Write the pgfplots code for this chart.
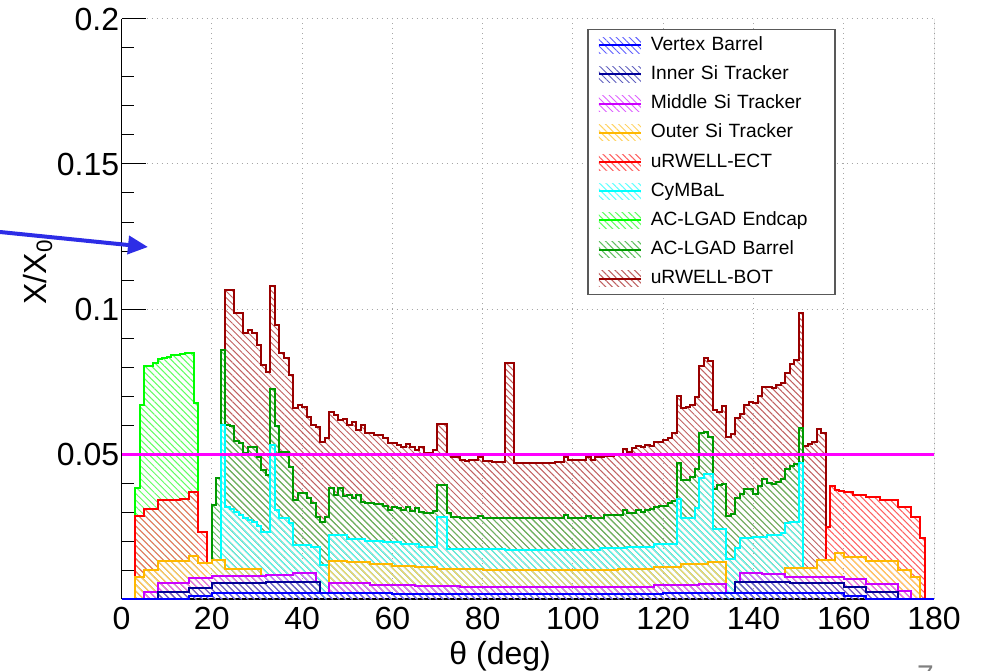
\documentclass[border=0pt]{standalone}
\usepackage{fontspec}
\setmainfont{Liberation Sans}
\usepackage{pgfplots}
\pgfplotsset{compat=1.18}
\usepackage{pgfplotstable}
\usetikzlibrary{patterns.meta,arrows.meta}

\definecolor{cVtx}{RGB}{0,0,255}
\definecolor{cInn}{RGB}{0,0,153}
\definecolor{cMid}{RGB}{204,0,255}
\definecolor{cOut}{RGB}{255,184,0}
\definecolor{cECT}{RGB}{255,0,0}
\definecolor{cCyM}{RGB}{0,255,255}
\definecolor{cLGE}{RGB}{0,255,0}
\definecolor{cLGB}{RGB}{0,153,0}
\definecolor{cBOT}{RGB}{153,0,0}
\definecolor{cRef}{RGB}{255,0,255}
\definecolor{cArrow}{RGB}{45,45,230}

% Cumulative stack heights (X/X0) per layer; x = lower bin edge in degrees.
% First and last rows give the level of the stack below at the layer's ends.
\pgfplotstableread{
x y
23 0.0858
23 0.1067
25 0.0985
27 0.0916
28 0.0928
29 0.0916
30 0.0876
31 0.0807
32 0.0784
33 0.1079
34 0.0945
35 0.0847
36 0.0830
37 0.0772
38 0.0657
39 0.0669
40 0.0663
41 0.0628
42 0.0600
43 0.0594
44 0.0543
45 0.0555
46 0.0646
47 0.0634
48 0.0617
49 0.0620
50 0.0600
51 0.0611
52 0.0583
53 0.0600
54 0.0571
56 0.0566
58 0.0554
59 0.0537
60 0.0539
61 0.0531
62 0.0525
63 0.0534
64 0.0525
65 0.0514
66 0.0525
67 0.0505
69 0.0514
70 0.0603
72 0.0497
73 0.0488
75 0.0481
76 0.0477
77 0.0481
79 0.0488
80 0.0477
82 0.0474
85 0.0814
87 0.0470
96 0.0474
98 0.0488
99 0.0479
100 0.0481
102 0.0479
103 0.0488
104 0.0479
105 0.0488
107 0.0492
109 0.0499
111 0.0516
112 0.0508
113 0.0520
114 0.0528
115 0.0523
116 0.0531
117 0.0526
118 0.0540
119 0.0543
120 0.0549
121 0.0554
122 0.0571
123 0.0700
124 0.0657
125 0.0663
126 0.0669
127 0.0698
128 0.0803
129 0.0830
130 0.0822
131 0.0652
132 0.0646
133 0.0667
134 0.0560
135 0.0569
136 0.0623
137 0.0638
138 0.0669
139 0.0680
140 0.0675
141 0.0700
142 0.0732
143 0.0730
144 0.0726
145 0.0738
146 0.0746
147 0.0778
148 0.0810
149 0.0824
150 0.0987
151 0.0526
152 0.0535
153 0.0543
154 0.0585
155 0.0571
156 0.0247
}\tBOT

\pgfplotstableread{
x y
20 0.0123
20 0.0324
21 0.0416
22 0.0858
23 0.0600
24 0.0595
25 0.0545
26 0.0537
27 0.0503
28 0.0525
30 0.0491
31 0.0445
32 0.0428
33 0.0723
34 0.0596
35 0.0508
37 0.0456
38 0.0341
39 0.0364
41 0.0347
42 0.0330
43 0.0284
44 0.0267
45 0.0284
46 0.0382
47 0.0359
48 0.0382
49 0.0356
50 0.0359
51 0.0347
52 0.0359
53 0.0336
54 0.0330
56 0.0327
58 0.0321
59 0.0307
60 0.0318
61 0.0313
62 0.0307
63 0.0318
64 0.0304
65 0.0313
66 0.0301
67 0.0295
69 0.0304
70 0.0393
72 0.0295
73 0.0284
75 0.0281
76 0.0278
79 0.0286
80 0.0281
82 0.0278
98 0.0290
99 0.0278
100 0.0281
102 0.0278
103 0.0286
104 0.0280
107 0.0290
109 0.0288
111 0.0307
112 0.0298
114 0.0307
115 0.0301
116 0.0307
117 0.0309
118 0.0316
119 0.0321
121 0.0330
122 0.0339
123 0.0468
124 0.0411
126 0.0420
127 0.0450
128 0.0574
129 0.0577
130 0.0560
131 0.0381
132 0.0393
133 0.0396
134 0.0286
135 0.0293
136 0.0347
137 0.0362
138 0.0378
140 0.0362
141 0.0388
142 0.0413
143 0.0401
144 0.0397
145 0.0404
146 0.0413
147 0.0447
148 0.0457
149 0.0466
150 0.0588
151 0.0108
}\tLGB

\pgfplotstableread{
x y
3 0
3 0.0382
4 0.0669
5 0.0804
7 0.0813
8 0.0826
9 0.0832
10 0.0836
11 0.0840
12 0.0842
13 0.0845
14 0.0850
16 0.0675
17 0.0232
}\tLGE

\pgfplotstableread{
x y
22 0.0134
22 0.0600
23 0.0316
24 0.0310
25 0.0299
26 0.0290
27 0.0281
28 0.0272
29 0.0264
30 0.0253
31 0.0232
33 0.0531
34 0.0307
35 0.0278
37 0.0261
38 0.0186
42 0.0180
44 0.0117
46 0.0220
50 0.0208
54 0.0201
58 0.0195
62 0.0188
66 0.0180
70 0.0282
72 0.0171
85 0.0168
100 0.0170
106 0.0175
112 0.0180
118 0.0190
123 0.0344
124 0.0278
127 0.0313
128 0.0416
129 0.0430
131 0.0240
134 0.0137
136 0.0175
137 0.0209
140 0.0213
143 0.0220
146 0.0226
147 0.0261
148 0.0267
150 0.0468
151 0.0108
}\tCYM

\pgfplotstableread{
x y
3 0
3 0.0287
5 0.0310
8 0.0343
13 0.0346
15 0.0370
17 0.0232
19 0.0123
}\tECTa

\pgfplotstableread{
x y
156 0.0135
156 0.0247
157 0.0388
158 0.0377
159 0.0371
160 0.0368
162 0.0360
165 0.0351
168 0.0341
172 0.0318
175 0.0284
177 0.0209
178 0
}\tECTb

\pgfplotstableread{
x y
3 0
3 0.0077
5 0.0100
8 0.0130
15 0.0149
17 0.0123
20 0.0134
23 0.0103
31 0.0084
}\tOUTa

\pgfplotstableread{
x y
46 0.0021
46 0.0132
50 0.0127
55 0.0121
60 0.0115
65 0.0109
70 0.0104
80 0.0100
100 0.0101
110 0.0105
118 0.0111
124 0.0119
130 0.0127
134 0.0021
}\tOUTb

\pgfplotstableread{
x y
147 0.0086
147 0.0108
154 0.0135
158 0.0157
160 0.0146
165 0.0132
172 0.0100
175 0.0077
177 0
}\tOUTc

\pgfplotstableread{
x y
5 0
5 0.0025
8 0.0054
15 0.0071
20 0.0078
25 0.0081
32 0.0084
38 0.0090
43 0.0058
}\tMIDa

\pgfplotstableread{
x y
46 0.0021
46 0.0054
55 0.0050
65 0.0045
75 0.0042
105 0.0043
118 0.0047
128 0.0053
134 0.0021
}\tMIDb

\pgfplotstableread{
x y
137 0.0058
137 0.0089
142 0.0086
147 0.0077
160 0.0068
165 0.0053
172 0.0026
175 0
}\tMIDc

\pgfplotstableread{
x y
8 0
8 0.0025
15 0.0038
20 0.0054
32 0.0058
44 0.0021
}\tINNa

\pgfplotstableread{
x y
136 0.0021
136 0.0058
148 0.0054
160 0.0043
165 0.0025
172 0
}\tINNb

\pgfplotstableread{
x y
0 0
15 0.0010
20 0.0021
60 0.0016
120 0.0021
160 0.0010
165 0
180 0
}\tVTX

\tikzset{hatch/.style={pattern={Lines[angle=-45,distance=2.3pt,line width=0.5pt]}}}

\pgfplotsset{
  layerfill/.style={const plot, forget plot, draw=none, hatch, pattern color=#1!62!white},
  layerline/.style={const plot, forget plot, draw=#1, line width=1pt},
  legimg/.style={legend image code/.code={
      \path[draw=none, hatch] (0pt,-4pt) rectangle (21pt,4pt);
      \draw[line width=1pt] (0pt,0pt) -- (21pt,0pt);}},
}

\newcommand{\layer}[2]{%
  \addplot[layerfill=#2] table {#1} \closedcycle;
  \addplot[layerline=#2] table {#1};
}

\begin{document}
\begin{tikzpicture}
\useasboundingbox (0,0) rectangle (495pt,335pt);
\begin{axis}[
  at={(60.75pt,35.5pt)}, anchor=south west,
  scale only axis, width=406.25pt, height=290pt,
  xmin=0, xmax=180, ymin=0, ymax=0.2,
  axis x line*=bottom, axis y line*=left,
  axis line style={black, line width=0.6pt},
  no markers,
  xtick={0,20,...,180},
  xticklabels={0,20,40,60,80,100,120,140,160,180},
  ytick={0,0.05,0.1,0.15,0.2},
  yticklabels={,0.05,0.1,0.15,0.2},
  minor ytick={0.01,0.02,0.03,0.04,0.06,0.07,0.08,0.09,0.11,0.12,0.13,0.14,0.16,0.17,0.18,0.19},
  tick align=inside,
  major tick length=12pt, minor tick length=6pt,
  ytick style={black, line width=0.5pt},
  xtick style={draw=none},
  grid=major,
  major grid style={gray!70, line width=0.5pt, dash pattern=on 0.7pt off 1.8pt},
  ticklabel style={font=\fontsize{16}{19}\selectfont},
  yticklabel style={inner xsep=1pt},
  xticklabel style={inner ysep=4pt},
  xlabel={θ (deg)},
  xlabel style={at={(axis description cs:0.466,0)}, anchor=north, inner sep=0pt, yshift=-21pt, font=\fontsize{16}{19}\selectfont},
  ylabel={X/X\textsubscript{0}},
  ylabel style={at={(axis description cs:-0.1028,0.564)}, anchor=center, inner sep=0pt, font=\fontsize{16}{19}\selectfont},
  legend cell align=left,
  legend style={at={(0.573,0.983)}, anchor=north west, draw=gray!70!black, line width=0.75pt, fill=white,
    font=\fontsize{9.6}{11}\selectfont, inner xsep=5pt, inner ysep=1.3pt, row sep=1.6pt, column sep=2.5pt,
    nodes={inner xsep=2pt, inner ysep=2pt, text height=7pt, text depth=2pt, text width=85pt}},
]
% stacked material layers, drawn from the top of the stack down
\layer{\tBOT}{cBOT}
\layer{\tLGB}{cLGB}
\layer{\tLGE}{cLGE}
\layer{\tCYM}{cCyM}
\layer{\tECTa}{cECT}
\layer{\tECTb}{cECT}
\layer{\tOUTa}{cOut}
\layer{\tOUTb}{cOut}
\layer{\tOUTc}{cOut}
\layer{\tMIDa}{cMid}
\layer{\tMIDb}{cMid}
\layer{\tMIDc}{cMid}
\layer{\tINNa}{cInn}
\layer{\tINNb}{cInn}
\layer{\tVTX}{cVtx}

% 5% reference level
\addplot[forget plot, cRef, line width=1.5pt] coordinates {(0,0.05) (180,0.05)};

\draw[gray!70!black, line width=0.5pt] (axis cs:180,0) -- (axis cs:180,0.2);

\addlegendimage{legimg, draw=cVtx, pattern color=cVtx!62!white}
\addlegendentry{Vertex Barrel}
\addlegendimage{legimg, draw=cInn, pattern color=cInn!62!white}
\addlegendentry{Inner Si Tracker}
\addlegendimage{legimg, draw=cMid, pattern color=cMid!62!white}
\addlegendentry{Middle Si Tracker}
\addlegendimage{legimg, draw=cOut, pattern color=cOut!62!white}
\addlegendentry{Outer Si Tracker}
\addlegendimage{legimg, draw=cECT, pattern color=cECT!62!white}
\addlegendentry{uRWELL-ECT}
\addlegendimage{legimg, draw=cCyM, pattern color=cCyM!62!white}
\addlegendentry{CyMBaL}
\addlegendimage{legimg, draw=cLGE, pattern color=cLGE!62!white}
\addlegendentry{AC-LGAD Endcap}
\addlegendimage{legimg, draw=cLGB, pattern color=cLGB!62!white}
\addlegendentry{AC-LGAD Barrel}
\addlegendimage{legimg, draw=cBOT, pattern color=cBOT!62!white}
\addlegendentry{uRWELL-BOT}
\end{axis}

\draw[cArrow, line width=2pt, -{Triangle[length=10pt, width=9pt]}] (0pt,219pt) -- (74pt,211.5pt);
\node[anchor=north, inner sep=0pt, text=gray, font=\fontsize{15}{18}\selectfont] at (462.75pt,2.5pt) {7};
\end{tikzpicture}
\end{document}
